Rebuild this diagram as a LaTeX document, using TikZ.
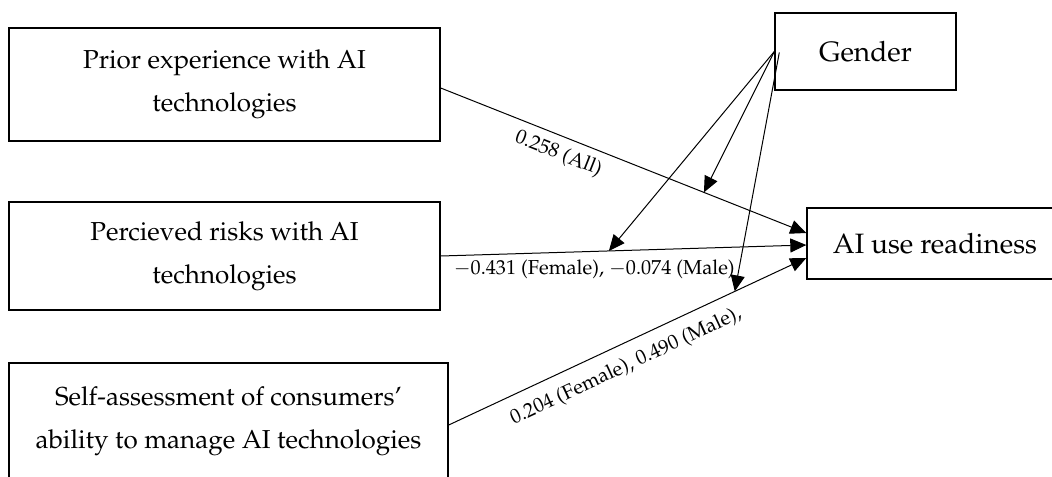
\documentclass[tikz,border=0pt]{standalone}
\usepackage[T1]{fontenc}
\usepackage{mathpazo}
\usetikzlibrary{arrows.meta,calc}

\tikzset{
  factor/.style={draw, line width=0.7pt, align=center, inner sep=0pt,
    font=\fontsize{13}{21.5}\selectfont},
  outcome/.style={factor, font=\fontsize{14}{17}\selectfont},
  path arrow/.style={-{Triangle[length=8pt,width=7pt]}, line width=0.5pt},
  coef/.style={font=\fontsize{10.1}{12}\selectfont, inner sep=2pt}
}

\begin{document}
\begin{tikzpicture}[x=0.5pt,y=-0.5pt]
  \useasboundingbox (0,0) rectangle (1052,476);
  % Predictors
  \node[factor, minimum width=215.5pt, minimum height=56.5pt] (prior) at (224.5,84.5)
    {Prior experience with AI\\technologies};
  \node[factor, minimum width=215.5pt, minimum height=54pt] (risk) at (224.5,256)
    {Percieved risks with AI\\technologies};
  \node[factor, minimum width=219.5pt, minimum height=58.5pt] (self) at (228.5,421.5)
    {Self-assessment of consumers'\\ability to manage AI technologies};
  % Moderator and outcome
  \node[outcome, minimum width=90.5pt, minimum height=38.5pt] (gender) at (865.5,51.5) {Gender};
  \node[outcome, minimum width=128pt, minimum height=35.5pt] (ready) at (935,243.5) {AI use readiness};

  % Direct paths
  \draw[path arrow] ($(prior.east)+(0,3.5)$) -- ($(ready.west)+(0,-10.5)$)
    coordinate[pos=0.72] (mprior)
    node[coef, pos=0.34, sloped, below=2pt] {0.258 (All)};
  \draw[path arrow] (risk.east) -- ($(ready.west)+(0,1.5)$)
    coordinate[pos=0.46] (mrisk)
    node[coef, pos=0.42, below=2pt] {$-$0.431 (Female), $-$0.074 (Male)};
  \draw[path arrow] ($(self.east)+(0,3.5)$) -- ($(ready.west)+(0,14.5)$)
    coordinate[pos=0.8] (mself)
    node[coef, pos=0.47, sloped, below=4pt] {0.204 (Female), 0.490 (Male),};

  % Moderation by gender
  \draw[path arrow] (gender.west) -- (mprior);
  \draw[path arrow] (gender.west) -- (mrisk);
  \draw[path arrow] ($(gender.west)+(5,1)$) -- (mself);
\end{tikzpicture}
\end{document}
